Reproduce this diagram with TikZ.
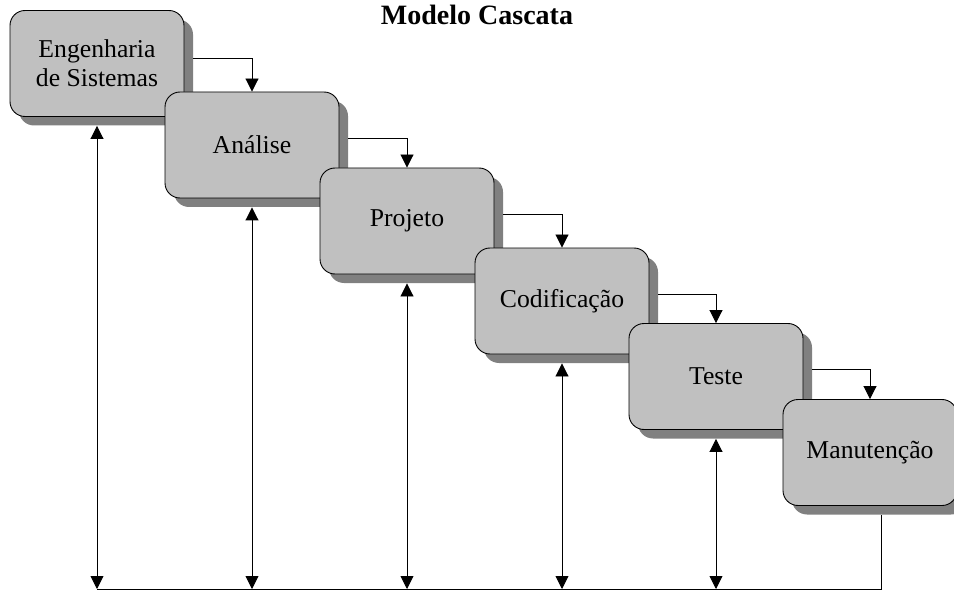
\documentclass[tikz,border=0pt]{standalone}
\usepackage{fontspec}
\setmainfont{Liberation Serif}
\usetikzlibrary{arrows.meta,shadows}
\definecolor{caixacinza}{HTML}{C0C0C0}
\definecolor{sombracinza}{HTML}{808080}

\begin{document}
\begin{tikzpicture}[x=1pt, y=-1pt]
\useasboundingbox (0,0) rectangle (954,591);
\tikzset{fase/.style={draw, fill=caixacinza, line width=0.9pt, rounded corners=15pt,
  minimum width=174pt, minimum height=106pt, align=center,
  font=\fontsize{25.7}{29}\selectfont,
  drop shadow={shadow xshift=9pt, shadow yshift=-9pt, fill=sombracinza, opacity=1}}}
\node[font=\bfseries\fontsize{28}{28}\selectfont, anchor=base] (titulo) at (477,25) {Modelo Cascata};

\node[fase] (eng) at (97,63.5) {Engenharia\\de Sistemas};
\node[fase] (ana) at (252,145) {Análise};
\node[fase] (proj) at (407,221) {Projeto};
\node[fase] (cod) at (562,301) {Codificação};
\node[fase] (tes) at (716,376.5) {Teste};
\node[fase] (man) at (870,452.5) {Manutenção};

\coordinate (base) at (0,589);
\coordinate (mfim) at ([xshift=11pt,yshift=-9pt]man.south);

\tikzset{seta/.style={-{Triangle[length=13pt,width=13pt]}, line width=0.9pt}};
\draw[seta] ([shift={(9pt,5pt)}]eng.east) -| (ana.north);
\draw[seta] ([shift={(9pt,7pt)}]ana.east) -| (proj.north);
\draw[seta] ([shift={(9pt,7pt)}]proj.east) -| (cod.north);
\draw[seta] ([shift={(9pt,7pt)}]cod.east) -| (tes.north);
\draw[seta] ([shift={(9pt,7pt)}]tes.east) -| (man.north);

\tikzset{seta/.style={{Triangle[length=13pt,width=13pt]}-{Triangle[length=13pt,width=13pt]}, line width=0.9pt}};
\draw[seta] ([yshift=-9pt]eng.south) -- (eng.south |- base);
\draw[seta] ([yshift=-9pt]ana.south) -- (ana.south |- base);
\draw[seta] ([yshift=-9pt]proj.south) -- (proj.south |- base);
\draw[seta] ([yshift=-9pt]cod.south) -- (cod.south |- base);
\draw[seta] ([yshift=-9pt]tes.south) -- (tes.south |- base);

\draw[line width=0.9pt] (eng.south |- base) -- (mfim |- base) -- (mfim);
\end{tikzpicture}
\end{document}
